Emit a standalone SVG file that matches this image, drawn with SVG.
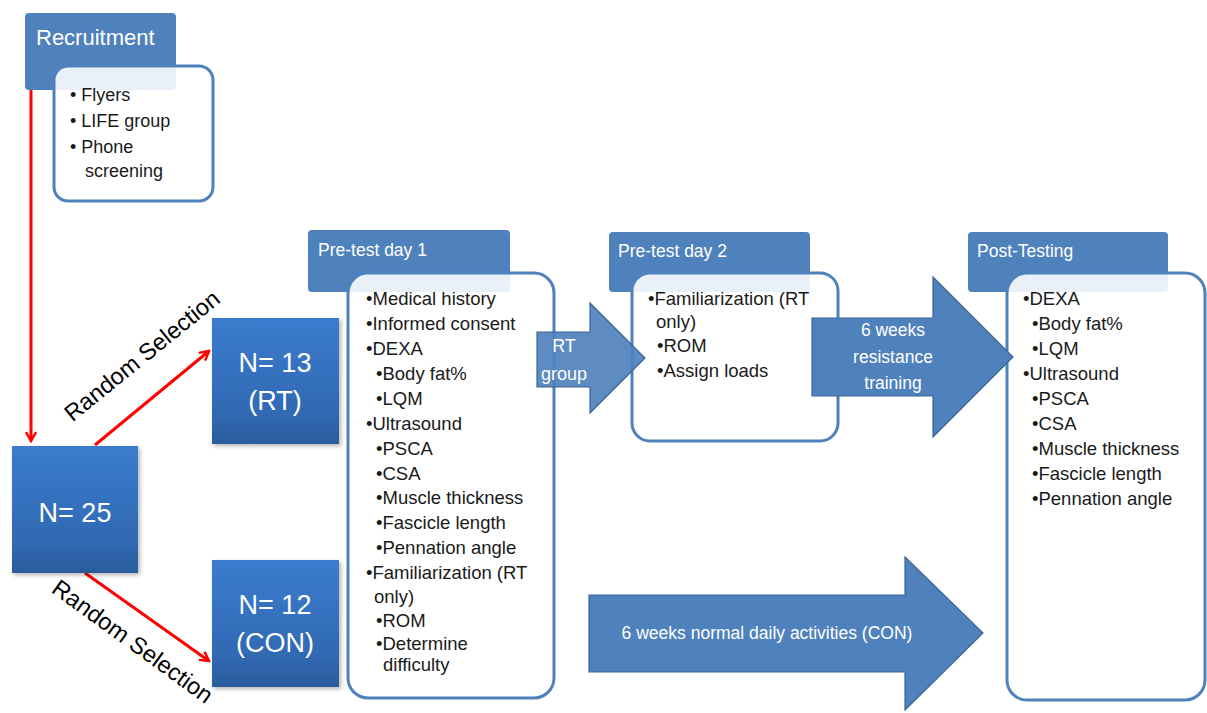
<svg xmlns="http://www.w3.org/2000/svg" width="1207" height="713" viewBox="0 0 1207 713">
<defs>
<linearGradient id="nb" x1="0" y1="0" x2="0" y2="1">
<stop offset="0" stop-color="#3b7cce"/>
<stop offset="0.75" stop-color="#3169b3"/>
<stop offset="1" stop-color="#2a5c9c"/>
</linearGradient>
<filter id="sh" x="-10%" y="-10%" width="125%" height="125%">
<feDropShadow dx="2" dy="2" stdDeviation="2" flood-color="#000" flood-opacity="0.3"/>
</filter>
<marker id="ah" viewBox="0 0 12 12" refX="10" refY="6" markerWidth="12" markerHeight="12" markerUnits="userSpaceOnUse" orient="auto">
<path d="M1,1 L10,6 L1,11" fill="none" stroke="#ff0000" stroke-width="2.5"/>
</marker>
<style>
.hdr{fill:#4f81bd;}
.hdrt{font-family:"Liberation Sans",Arial,sans-serif;font-size:17.5px;fill:#ffffff;}
.box{fill:#ffffff;fill-opacity:0.88;stroke:#4f81bd;stroke-width:3;}
.t{font-family:"Liberation Sans",Arial,sans-serif;font-size:18.5px;fill:#1a1a1a;}
.t2{font-family:"Liberation Sans",Arial,sans-serif;font-size:18px;fill:#1a1a1a;}
.nb{fill:url(#nb);filter:url(#sh);}
.nt{font-family:"Liberation Sans",Arial,sans-serif;font-size:27px;fill:#ffffff;text-anchor:middle;}
.arr{fill:#4f81bd;stroke:#3a6596;stroke-width:1.2;}
.at{font-family:"Liberation Sans",Arial,sans-serif;font-size:17.5px;fill:#ffffff;text-anchor:middle;}
.red{stroke:#ff0000;stroke-width:3;fill:none;marker-end:url(#ah);}
.rs{font-family:"Liberation Sans",Arial,sans-serif;font-size:23.5px;fill:#000000;text-anchor:middle;}
</style>
</defs>
<rect width="1207" height="713" fill="#ffffff"/>

<g id="connectors">
<line class="red" x1="31" y1="90" x2="31" y2="441"/>
<line class="red" x1="95" y1="445" x2="209" y2="351"/>
<line class="red" x1="85" y1="573" x2="209" y2="661"/>
<text class="rs" transform="translate(147,362) rotate(-39)">Random Selection</text>
<text class="rs" transform="translate(128,648) rotate(36)">Random Selection</text>
</g>

<g id="recruitment">
<rect class="hdr" x="25" y="13" width="151" height="77" rx="4"/>
<text class="hdrt" x="36" y="45" style="font-size:22px">Recruitment</text>
<rect class="box" x="54" y="66" width="159" height="135" rx="14"/>
<text class="t2" x="70" y="101">• Flyers</text>
<text class="t2" x="70" y="127">• LIFE group</text>
<text class="t2" x="70" y="153">• Phone</text>
<text class="t2" x="85" y="177">screening</text>
</g>

<g id="n25">
<rect class="nb" x="12" y="446" width="126" height="127"/>
<text class="nt" x="75" y="522">N= 25</text>
</g>
<g id="n13">
<rect class="nb" x="212" y="318" width="127" height="126"/>
<text class="nt" x="275" y="372">N= 13</text>
<text class="nt" x="275" y="410">(RT)</text>
</g>
<g id="n12">
<rect class="nb" x="212" y="560" width="127" height="127"/>
<text class="nt" x="275" y="614">N= 12</text>
<text class="nt" x="275" y="652">(CON)</text>
</g>

<g id="pretest1">
<rect class="hdr" x="308" y="230" width="202" height="62" rx="4"/>
<text class="hdrt" x="318" y="256">Pre-test day 1</text>
<rect class="box" x="348" y="273" width="206" height="425" rx="20"/>
<text class="t" x="366" y="305">•Medical history</text>
<text class="t" x="366" y="330">•Informed consent</text>
<text class="t" x="366" y="355">•DEXA</text>
<text class="t" x="376" y="380">•Body fat%</text>
<text class="t" x="376" y="405">•LQM</text>
<text class="t" x="366" y="430">•Ultrasound</text>
<text class="t" x="376" y="455">•PSCA</text>
<text class="t" x="376" y="480">•CSA</text>
<text class="t" x="376" y="504">•Muscle thickness</text>
<text class="t" x="376" y="529">•Fascicle length</text>
<text class="t" x="376" y="554">•Pennation angle</text>
<text class="t" x="366" y="579">•Familiarization (RT</text>
<text class="t" x="374" y="603">only)</text>
<text class="t" x="376" y="627">•ROM</text>
<text class="t" x="376" y="650">•Determine</text>
<text class="t" x="383" y="671">difficulty</text>
</g>

<g id="pretest2">
<rect class="hdr" x="609" y="232" width="201" height="60" rx="4"/>
<text class="hdrt" x="618" y="257">Pre-test day 2</text>
<rect class="box" x="632" y="273" width="206" height="168" rx="18"/>
<text class="t" x="648" y="305">•Familiarization (RT</text>
<text class="t" x="656" y="328">only)</text>
<text class="t" x="657" y="352">•ROM</text>
<text class="t" x="657" y="377">•Assign loads</text>
</g>

<g id="posttest">
<rect class="hdr" x="968" y="232" width="200" height="60" rx="4"/>
<text class="hdrt" x="977" y="257">Post-Testing</text>
<rect class="box" x="1007" y="273" width="198" height="427" rx="20"/>
<text class="t" x="1023" y="305">•DEXA</text>
<text class="t" x="1032" y="330">•Body fat%</text>
<text class="t" x="1032" y="355">•LQM</text>
<text class="t" x="1023" y="380">•Ultrasound</text>
<text class="t" x="1032" y="405">•PSCA</text>
<text class="t" x="1032" y="430">•CSA</text>
<text class="t" x="1032" y="455">•Muscle thickness</text>
<text class="t" x="1032" y="480">•Fascicle length</text>
<text class="t" x="1032" y="505">•Pennation angle</text>
</g>

<g id="rt-arrow">
<path class="arr" fill-opacity="0.92" d="M537,332 L590,332 L590,303 L645,358 L590,413 L590,387 L537,387 Z"/>
<text class="at" x="564" y="352" style="font-size:18px">RT</text>
<text class="at" x="564" y="380" style="font-size:18px">group</text>
</g>

<g id="train-arrow">
<path class="arr" d="M812,318 L933,318 L933,277 L1013,357 L933,437 L933,396 L812,396 Z"/>
<text class="at" x="893" y="336">6 weeks</text>
<text class="at" x="893" y="363">resistance</text>
<text class="at" x="893" y="389">training</text>
</g>

<g id="con-arrow">
<path class="arr" d="M589,595 L905,595 L905,557 L983,633 L905,710 L905,672 L589,672 Z"/>
<text class="at" x="767" y="639">6 weeks normal daily activities (CON)</text>
</g>
</svg>
